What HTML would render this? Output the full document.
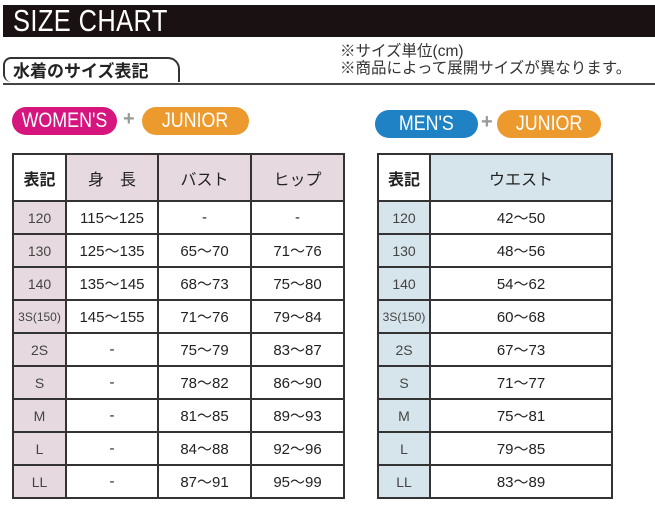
<!DOCTYPE html>
<html><head><meta charset="utf-8"><style>
body{margin:0;width:655px;height:529px;background:#fff;position:relative;overflow:hidden;font-family:"Liberation Sans","Noto Sans CJK JP",sans-serif;color:#222}
.bar{position:absolute;left:3px;top:5px;width:652px;height:32px;background:#1a1212}
.bar span{position:absolute;left:10px;top:-2px;color:#fff;font-size:31px;letter-spacing:0.5px;transform:scaleX(0.82);transform-origin:left;white-space:nowrap}
.sub{position:absolute;left:3px;top:57px;height:25px;border:2px solid #333;border-bottom:none;border-radius:8px 12px 0 8px;font-weight:bold;font-size:17px;line-height:26px;padding-left:8px;box-sizing:border-box;width:177px}
.line{position:absolute;left:3px;top:83px;width:652px;height:2px;background:#444}
.note{position:absolute;left:340px;top:43px;font-size:15.5px;line-height:17px;color:#333}
.pill{position:absolute;height:28px;border-radius:14px;color:#fff;font-size:21px;line-height:28px;text-align:center;white-space:nowrap}
.pill span{display:inline-block;transform:scaleX(0.85)}
.plus{position:absolute;color:#999;font-size:20px;font-weight:bold}
table{position:absolute;border-collapse:collapse;table-layout:fixed}
td{border:2px solid #333;text-align:center;font-size:15px;padding:0;height:31px}
tr.h td{height:45px;font-size:16px}
td.k{font-weight:bold;font-size:15px}
.w td.l,.w tr.h td{background:#e6dae0}
.m td.l,.m tr.h td{background:#d6e4eb}
.w tr.h td.k,.m tr.h td.k{background:#fff}
td.l{font-size:14px;color:#444}
</style></head><body>
<div class="bar"><span>SIZE CHART</span></div>
<div class="sub">水着のサイズ表記</div>
<div class="line"></div>
<div class="note">※サイズ単位(cm)<br>※商品によって展開サイズが異なります。</div>
<div class="pill" style="left:12px;top:107px;width:105px;background:#d6157f"><span>WOMEN'S</span></div>
<div class="plus" style="left:123px;top:108px">+</div>
<div class="pill" style="left:142px;top:107px;width:107px;background:#ec9a2e"><span>JUNIOR</span></div>
<div class="pill" style="left:375px;top:110px;width:103px;background:#1e82c4"><span>MEN'S</span></div>
<div class="plus" style="left:481px;top:111px">+</div>
<div class="pill" style="left:497px;top:110px;width:104px;background:#ec9a2e"><span>JUNIOR</span></div>

<table class="w" style="left:12px;top:153px;width:331px">
<colgroup><col style="width:53px"><col style="width:92px"><col style="width:93px"><col style="width:93px"></colgroup>
<tr class="h"><td class="k">表記</td><td>身　長</td><td>バスト</td><td>ヒップ</td></tr>
<tr><td class="l">120</td><td>115～125</td><td>-</td><td>-</td></tr>
<tr><td class="l">130</td><td>125～135</td><td>65～70</td><td>71～76</td></tr>
<tr><td class="l">140</td><td>135～145</td><td>68～73</td><td>75～80</td></tr>
<tr><td class="l" style="font-size:12px">3S(150)</td><td>145～155</td><td>71～76</td><td>79～84</td></tr>
<tr><td class="l">2S</td><td>-</td><td>75～79</td><td>83～87</td></tr>
<tr><td class="l">S</td><td>-</td><td>78～82</td><td>86～90</td></tr>
<tr><td class="l">M</td><td>-</td><td>81～85</td><td>89～93</td></tr>
<tr><td class="l">L</td><td>-</td><td>84～88</td><td>92～96</td></tr>
<tr><td class="l">LL</td><td>-</td><td>87～91</td><td>95～99</td></tr>
</table>

<table class="m" style="left:377px;top:153px;width:234px">
<colgroup><col style="width:52px"><col style="width:182px"></colgroup>
<tr class="h"><td class="k">表記</td><td>ウエスト</td></tr>
<tr><td class="l">120</td><td>42～50</td></tr>
<tr><td class="l">130</td><td>48～56</td></tr>
<tr><td class="l">140</td><td>54～62</td></tr>
<tr><td class="l" style="font-size:12px">3S(150)</td><td>60～68</td></tr>
<tr><td class="l">2S</td><td>67～73</td></tr>
<tr><td class="l">S</td><td>71～77</td></tr>
<tr><td class="l">M</td><td>75～81</td></tr>
<tr><td class="l">L</td><td>79～85</td></tr>
<tr><td class="l">LL</td><td>83～89</td></tr>
</table>
</body></html>
